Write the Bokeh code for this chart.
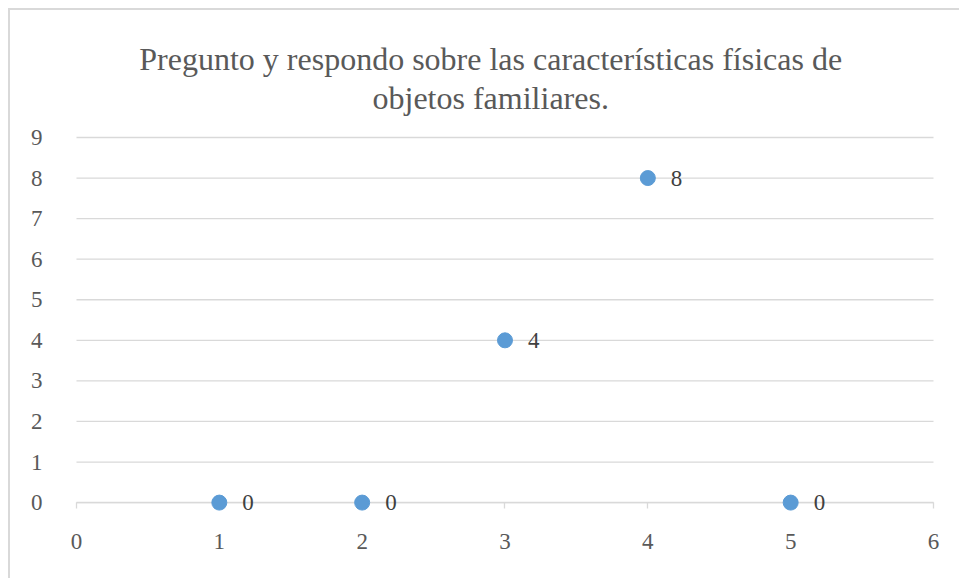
from bokeh.plotting import figure
from bokeh.models import Range1d, ColumnDataSource, FixedTicker, LabelSet, Label
from bokeh.embed import file_html
from bokeh.resources import INLINE

title_line1 = "Pregunto y respondo sobre las características físicas de"
title_line2 = "objetos familiares."
x_values = [1, 2, 3, 4, 5]
y_values = [0, 0, 4, 8, 0]
x_ticks = [0, 1, 2, 3, 4, 5, 6]
y_ticks = [0, 1, 2, 3, 4, 5, 6, 7, 8, 9]
x_min, x_max = 0, 6
y_min, y_max = 0, 9

FONT = "Liberation Serif"
GRID = "#d9d9d9"
TXT = "#595959"

p = figure(width=951, height=570, output_backend="svg", toolbar_location=None,
           x_range=Range1d(-0.462, 6.196), y_range=Range1d(-1.92, 12.13),
           min_border_left=0, min_border_right=0, min_border_top=0, min_border_bottom=0)
p.styles = {"border-left": "2px solid #d9d9d9", "border-top": "2px solid #d9d9d9",
            "margin-left": "8px", "margin-top": "8px"}
p.outline_line_color = None
p.background_fill_color = "white"
p.border_fill_color = "white"

# two-line chart title
for txt, ty in ((title_line1, 10.93), (title_line2, 9.98)):
    p.add_layout(Label(x=2.9, y=ty, text=txt, text_align="center", text_baseline="alphabetic",
                       text_font=FONT, text_font_size="32px", text_color=TXT))

# horizontal gridlines between x_min and x_max
p.segment(x0=[x_min] * len(y_ticks), x1=[x_max] * len(y_ticks), y0=y_ticks, y1=y_ticks,
          line_color=GRID, line_width=1.3, level="underlay")

src = ColumnDataSource(dict(x=x_values, y=y_values, lab=[str(v) for v in y_values]))
p.scatter("x", "y", source=src, size=15, fill_color="#5B9BD5", line_color="#5B9BD5")
labels = LabelSet(x="x", y="y", text="lab", source=src, x_offset=23, y_offset=0,
                  text_font=FONT, text_font_size="23px", text_color="#404040",
                  text_align="left", text_baseline="middle")
p.add_layout(labels)

p.xgrid.grid_line_color = None
p.ygrid.grid_line_color = None

p.xaxis.level = "underlay"
p.xaxis.fixed_location = 0
p.xaxis.bounds = (x_min, x_max)
p.xaxis.ticker = FixedTicker(ticks=x_ticks)
p.xaxis.axis_line_color = GRID
p.xaxis.axis_line_width = 1.3
p.xaxis.major_tick_line_color = GRID
p.xaxis.major_tick_line_width = 1.3
p.xaxis.major_tick_in = 0
p.xaxis.major_tick_out = 6
p.xaxis.minor_tick_line_color = None
p.xaxis.major_label_standoff = 25
p.xaxis.major_label_text_font = FONT
p.xaxis.major_label_text_font_size = "23px"
p.xaxis.major_label_text_color = TXT

p.yaxis.fixed_location = 0
p.yaxis.bounds = (y_min, y_max)
p.yaxis.ticker = FixedTicker(ticks=y_ticks)
p.yaxis.axis_line_color = None
p.yaxis.major_tick_line_color = None
p.yaxis.minor_tick_line_color = None
p.yaxis.major_label_standoff = 28
p.yaxis.major_label_text_font = FONT
p.yaxis.major_label_text_font_size = "23px"
p.yaxis.major_label_text_color = TXT

open("out.html", "w").write(file_html(p, INLINE))
